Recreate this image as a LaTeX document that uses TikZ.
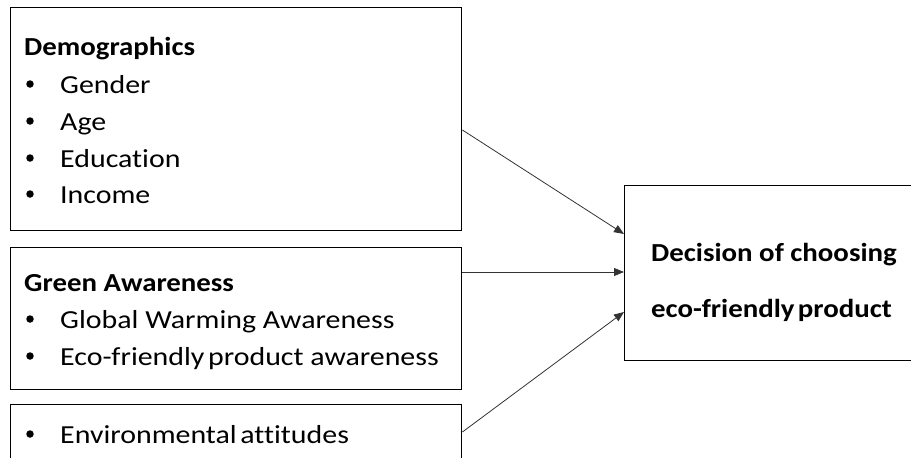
\documentclass[tikz,border=0pt]{standalone}
\usepackage{fontspec}
\setmainfont{Carlito}[RawFeature=-liga]
\newfontfamily\itemfont{Carlito}[FakeStretch=1.15, RawFeature=-liga]
\newfontfamily\headfont{Carlito}[FakeStretch=1.11, RawFeature=-liga]
\usetikzlibrary{arrows.meta,calc}
\tikzset{
  box/.style={draw=black, line width=1.4pt, rectangle, anchor=north west, inner sep=0pt},
  txt/.style={anchor=base west, inner sep=0pt, font=\itemfont\fontsize{26}{30}\selectfont},
  head/.style={anchor=base west, inner sep=0pt, font=\headfont\fontsize{26}{30}\selectfont\bfseries},
  bul/.style={circle, fill=black, inner sep=0pt, minimum size=7.5pt},
  conn/.style={draw=black!80, line width=0.8pt, -{Triangle[length=10pt,width=8pt]}}
}
\begin{document}
\begin{tikzpicture}[x=1pt,y=-1pt]
\useasboundingbox (0,0) rectangle (911,458);
\clip (0,0) rectangle (911,458);
% boxes
\node[box, minimum width=451pt, minimum height=223pt] (demo) at (10,7) {};
\node[box, minimum width=451pt, minimum height=142pt] (green) at (10,247) {};
\node[box, minimum width=451pt, minimum height=80pt] (env) at (10,404) {};
\node[box, minimum width=320pt, minimum height=175pt] (dec) at (624,185) {};
% texts box 1
\node[head] (t1) at (24,55) {Demographics};
\node[bul] (b1) at (30,84) {}; \node[txt] (i1) at (60,93) {Gender};
\node[bul] (b2) at (30,121) {}; \node[txt] (i2) at (60,130) {Age};
\node[bul] (b3) at (30,158) {}; \node[txt] (i3) at (60,167) {Education};
\node[bul] (b4) at (30,194) {}; \node[txt] (i4) at (60,203) {Income};
% texts box 2
\node[head] (t2) at (24,291) {Green Awareness};
\node[bul] (b5) at (30,319) {}; \node[txt] (i5) at (60,328) {Global Warming Awareness};
\node[bul] (b6) at (30,356) {}; \node[txt] (i6) at (60,365) {Eco-friendly\hspace{-0.12em} product awareness};
% box 3
\node[bul] (b7) at (30,434) {}; \node[txt] (i7) at (60,443) {Environmental\hspace{-0.12em} attitudes};
% decision text
\node[head] (d1) at (651,261) {Decision of choosing};
\node[head] (d2) at (651,317) {eco-friendly\hspace{-0.12em} product};
% connectors
\coordinate (s1) at (demo.east |- 0,130);
\coordinate (e1) at (dec.west |- 0,234);
\coordinate (s2) at (green.east |- 0,272);
\coordinate (e2) at (dec.west |- 0,272);
\coordinate (s3) at (env.east |- 0,432);
\coordinate (e3) at (dec.west |- 0,312);
\draw[conn] (s1) -- (e1);
\draw[conn] (s2) -- (e2);
\draw[conn] (s3) -- (e3);
\end{tikzpicture}
\end{document}
